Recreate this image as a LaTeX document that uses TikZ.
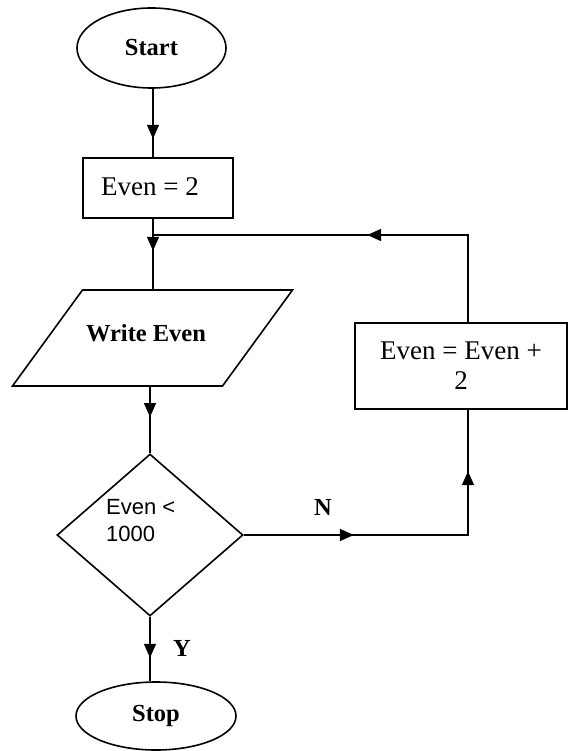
\documentclass[tikz,border=0pt]{standalone}
\usepackage{fontspec}
\setmainfont{Liberation Serif}
\newfontfamily\arialfont{Liberation Sans}
\usetikzlibrary{shapes.geometric,arrows.meta,decorations.markings}
\tikzset{
  line/.style={line width=1.6pt},
  shapebox/.style={draw, line width=1.6pt, inner sep=0pt},
  regtxt/.style={font=\fontsize{27}{30}\selectfont, align=center, inner sep=0pt},
  boldtxt/.style={font=\bfseries\fontsize{24.5}{28}\selectfont, inner sep=0pt},
  condtxt/.style={font=\arialfont\fontsize{22}{27}\selectfont, align=left, inner sep=0pt},
  tipstyle/.tip={Triangle[length=14pt,width=12pt]},
  arrowat/.style={postaction={decorate}, decoration={markings, mark=at position #1 with {\arrow{tipstyle}}}},
  arrowtwo/.style 2 args={postaction={decorate}, decoration={markings, mark=at position #1 with {\arrow{tipstyle}}, mark=at position #2 with {\arrow{tipstyle}}}}
}
\begin{document}
\begin{tikzpicture}[x=1pt,y=-1pt]
\useasboundingbox (0,0) rectangle (569,751);
% nodes
\node[shapebox, ellipse, minimum width=149pt, minimum height=80pt, boldtxt] (start) at (151.5,48) {Start};
\node[shapebox, rectangle, minimum width=150pt, minimum height=60pt] (even2) at (158,188) {};
\node[regtxt] (even2t) at (150,187) {Even = 2};
% parallelogram
\coordinate (p1) at (82.5,290);
\coordinate (p2) at (292.5,290);
\coordinate (p3) at (222.5,386);
\coordinate (p4) at (12.5,386);
\draw[line] (p1) -- (p2) -- (p3) -- (p4) -- cycle;
\node[boldtxt] (write) at (146,333) {Write Even};
\coordinate (wtop) at (153,290);
\coordinate (wbot) at (150,386);
% decision
\node[shapebox, diamond, minimum width=186pt, minimum height=162pt] (cond) at (150,535) {};
\node[condtxt, anchor=west] (condt) at (106,521) {Even <\\1000};
% stop
\node[shapebox, ellipse, minimum width=160pt, minimum height=68pt, boldtxt] (stop) at (156,716) {Stop};
% increment box
\node[shapebox, rectangle, minimum width=212pt, minimum height=86pt, regtxt] (inc) at (461,366) {Even = Even +\\2};
% helper coordinates
\coordinate (join) at (153,235);
\coordinate (rt) at (468,535);
\coordinate (tp) at (468,235);
% labels
\node[boldtxt] (nlab) at (323,507) {N};
\node[boldtxt] (ylab) at (182,648) {Y};
% connectors
\draw[line, arrowat=50pt] (start.south -| join) -- (even2.north -| join);
\draw[line, arrowat=32pt] (even2.south -| join) -- (wtop);
\draw[line, arrowat=31pt] (wbot) -- (cond.north);
\draw[line, arrowat=41pt] (cond.south) -- (cond.south |- stop.north);
\draw[line, arrowtwo={110pt}{288pt}] (cond.east) -- (rt) -- (inc.south -| rt);
\draw[line, arrowat=188pt] (inc.north -| rt) -- (tp) -- (join);
\end{tikzpicture}
\end{document}
